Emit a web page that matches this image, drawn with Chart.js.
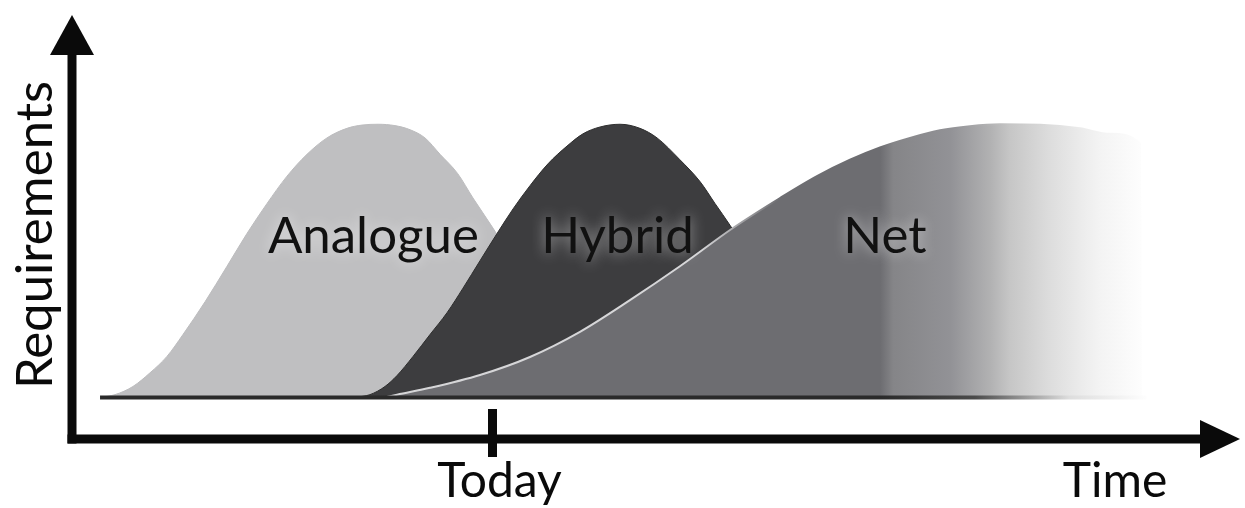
<!DOCTYPE html>
<html lang="en">
<head>
    <meta charset="UTF-8">
    <title>Requirements over time</title>
    <script src="https://cdn.jsdelivr.net/npm/chart.js"></script>
    <style>
        html, body {
            margin: 0;
            padding: 0;
            background: #ffffff;
        }

        #wrap {
            width: 1245px;
            height: 508px;
        }
    </style>
</head>
<body>
    <div id="wrap">
        <canvas id="myChart" width="1245" height="508"></canvas>
    </div>

    <script>
        // time axis runs 0..100, requirements 0..100 at the peaks
        const analogueTime = [2.40, 3.68, 5.22, 6.68, 8.13, 9.50, 11.39, 13.27, 14.98, 16.70, 18.41, 20.12, 21.83, 23.54, 24.83, 26.20,
            27.65, 28.94, 30.22, 31.51, 33.01, 34.33, 36.04, 37.76, 39.47, 41.18, 42.89, 44.61, 46.32, 48.03, 49.49];
        const analogueReq = [0, 1, 4, 9, 15, 23, 35, 48, 60, 71, 81, 89, 95, 98.5, 99.7, 100,
            99.5, 98, 95, 89, 82, 73, 62, 50, 38, 26, 16, 8, 3, 0.5, 0];

        const hybridTime = [24.23, 25.51, 26.80, 27.83, 29.20, 30.65, 32.11, 33.48, 34.93, 36.39, 37.76, 39.21, 40.75, 42.38, 43.75, 45.21, 46.92,
            48.63, 50.09, 52.05, 53.77, 55.05, 56.34, 58.90, 61.47, 64.04, 66.61, 68.32, 69.61];
        const hybridReq = [0, 1, 4, 8, 15, 23, 31, 40, 50, 60, 69, 77.5, 85.5, 92, 96.5, 99, 100,
            98.5, 95, 87, 79, 71, 63, 46, 29, 14, 4.5, 1, 0];

        const netTime = [26.80, 27.83, 30.65, 34.93, 39.21, 43.49, 47.77, 52.05, 56.59, 60.62, 63.78, 66.61, 69.18, 71.75, 74.32, 76.88, 79.45,
            82.88, 86.30, 88.87, 91.44, 91.52];
        const netReq = [0, 1, 3.5, 8.2, 14.8, 24, 35.6, 48, 62, 73, 81, 87, 91.5, 95, 97.8, 99.3, 100,
            99.8, 98.5, 96.5, 93, 0];

        const baselineTime = [2.4, 92];
        const baselineReq = [0, 0];

        const seriesNames = ['Analogue', 'Hybrid', 'Net'];
        const tickTimes = [36.0];
        const tickLabels = ['Today'];
        const axisTitleX = 'Time';
        const axisTitleY = 'Requirements';

        const toPoints = (xs, ys) => xs.map((x, i) => ({ x: x, y: ys[i] }));

        const labelFont = '51px Lato, "Open Sans", sans-serif';
        const axisFont = '48px Lato, "Open Sans", sans-serif';

        // horizontal gradient between two time values
        function hGradient(chart, from, to, stops) {
            const area = chart.chartArea;
            if (!area) return stops[0][1];
            const xs = chart.scales.x;
            const g = chart.ctx.createLinearGradient(xs.getPixelForValue(from), 0, xs.getPixelForValue(to), 0);
            stops.forEach(s => g.addColorStop(s[0], s[1]));
            return g;
        }

        const netStops = [
            [0, '#6d6d71'],
            [0.048, '#858588'],
            [0.26, '#929296'],
            [0.41, '#b2b2b3'],
            [0.48, '#c6c6c6'],
            [0.63, '#dddddd'],
            [0.74, '#ebebeb'],
            [0.81, '#f3f3f3'],
            [0.93, '#fbfbfb'],
            [1, '#ffffff']
        ];
        const netEdgeStops = [
            [0, '#d6d6d8'],
            [0.178, '#6d6d71'],
            [0.4, '#6d6d71'],
            [0.43, '#858588'],
            [0.56, '#929296'],
            [0.64, '#b2b2b3'],
            [0.69, '#c6c6c6'],
            [0.78, '#dddddd'],
            [0.84, '#ebebeb'],
            [0.89, '#f3f3f3'],
            [0.96, '#fbfbfb'],
            [1, '#ffffff']
        ];
        const lineStops = [
            [0, '#2a2a2a'],
            [0.35, '#4a4a4a'],
            [0.7, '#dddddd'],
            [1, '#ffffff']
        ];

        // arrows, today tick and all the text
        const decorations = {
            id: 'decorations',
            afterDatasetsDraw(chart) {
                const { ctx, chartArea, scales } = chart;
                const x0 = scales.x.getPixelForValue(0);
                const axisY = chartArea.bottom - 4;
                const tipTop = chartArea.top;
                const tipRight = chartArea.right;

                ctx.save();
                ctx.fillStyle = '#0a0a0a';
                ctx.strokeStyle = '#0a0a0a';
                ctx.lineWidth = 9;

                // y axis
                ctx.beginPath();
                ctx.moveTo(x0, axisY + 4.5);
                ctx.lineTo(x0, tipTop + 30);
                ctx.stroke();
                ctx.beginPath();
                ctx.moveTo(x0, tipTop);
                ctx.lineTo(x0 - 22, tipTop + 40);
                ctx.lineTo(x0 + 22, tipTop + 40);
                ctx.closePath();
                ctx.fill();

                // x axis
                ctx.beginPath();
                ctx.moveTo(x0 - 4.5, axisY);
                ctx.lineTo(tipRight - 30, axisY);
                ctx.stroke();
                ctx.beginPath();
                ctx.moveTo(tipRight, axisY);
                ctx.lineTo(tipRight - 40, axisY - 19);
                ctx.lineTo(tipRight - 40, axisY + 19);
                ctx.closePath();
                ctx.fill();

                // ticks + labels
                ctx.font = axisFont;
                ctx.textAlign = 'center';
                ctx.textBaseline = 'alphabetic';
                tickTimes.forEach((t, i) => {
                    const px = scales.x.getPixelForValue(t);
                    ctx.beginPath();
                    ctx.moveTo(px, axisY - 30);
                    ctx.lineTo(px, axisY + 18);
                    ctx.stroke();
                    ctx.fillText(tickLabels[i], px + 7, 497);
                });
                ctx.fillText(axisTitleX, 1115, 497);

                ctx.save();
                ctx.font = labelFont;
                ctx.translate(52, 235);
                ctx.rotate(-Math.PI / 2);
                ctx.fillText(axisTitleY, 0, 0);
                ctx.restore();

                // series names inside the areas
                const spots = [[25.8, 53], [46.7, 53], [69.6, 53]];
                ctx.font = labelFont;
                ctx.shadowColor = 'rgba(255,255,255,0.55)';
                ctx.shadowBlur = 14;
                seriesNames.forEach((name, i) => {
                    const px = scales.x.getPixelForValue(spots[i][0]);
                    const py = scales.y.getPixelForValue(spots[i][1]);
                    ctx.fillStyle = '#111111';
                    ctx.fillText(name, px, py);
                });
                ctx.restore();
            }
        };

        const ctx = document.getElementById('myChart').getContext('2d');
        const chart = new Chart(ctx, {
            type: 'line',
            data: {
                datasets: [
                    {
                        label: 'baseline',
                        data: toPoints(baselineTime, baselineReq),
                        borderColor: c => hGradient(c.chart, 69.2, 92.3, lineStops),
                        borderWidth: 4,
                        pointRadius: 0,
                        fill: false,
                        order: 0
                    },
                    {
                        label: seriesNames[2],
                        data: toPoints(netTime, netReq),
                        borderColor: c => hGradient(c.chart, 53.8, 92.3, netEdgeStops),
                        borderWidth: 2,
                        backgroundColor: c => hGradient(c.chart, 69.2, 92.3, netStops),
                        pointRadius: 0,
                        fill: 'origin',
                        cubicInterpolationMode: 'monotone',
                        order: 1
                    },
                    {
                        label: seriesNames[1],
                        data: toPoints(hybridTime, hybridReq),
                        borderColor: '#2e2e2e',
                        borderWidth: 1,
                        backgroundColor: '#3d3d3f',
                        pointRadius: 0,
                        fill: 'origin',
                        cubicInterpolationMode: 'monotone',
                        order: 2
                    },
                    {
                        label: seriesNames[0],
                        data: toPoints(analogueTime, analogueReq),
                        borderColor: '#bcbcbe',
                        borderWidth: 1,
                        backgroundColor: '#bfbfc1',
                        pointRadius: 0,
                        fill: 'origin',
                        cubicInterpolationMode: 'monotone',
                        order: 3
                    }
                ]
            },
            options: {
                responsive: false,
                animation: false,
                layout: {
                    padding: { left: 72, right: 5, top: 15, bottom: 65 }
                },
                plugins: {
                    legend: { display: false },
                    tooltip: { enabled: false }
                },
                scales: {
                    x: { type: 'linear', min: 0, max: 100, display: false },
                    y: { min: -16.7, max: 140, display: false }
                }
            },
            plugins: [decorations]
        });
    </script>
</body>
</html>
